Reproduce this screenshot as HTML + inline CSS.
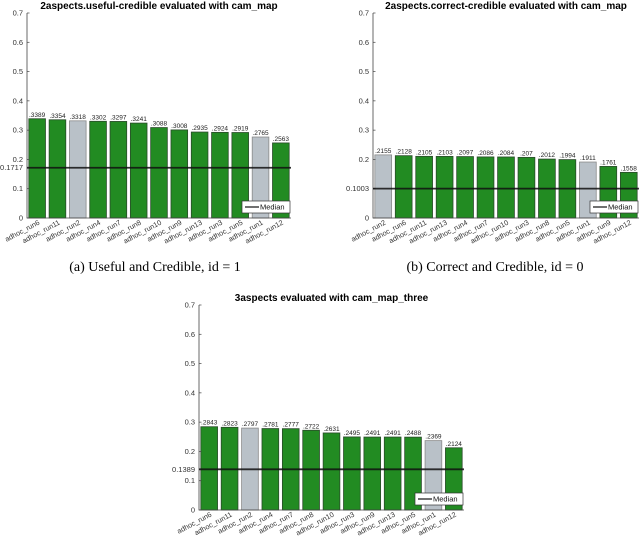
<!DOCTYPE html>
<html><head><meta charset="utf-8">
<style>
body{margin:0;background:#fff;width:640px;height:541px;overflow:hidden}
svg{display:block}
.t{font-family:"Liberation Sans",sans-serif}
.cap{font-family:"Liberation Serif",serif;font-size:14px}
</style></head><body>
<svg id="s" width="640" height="541" viewBox="0 0 640 541">
<text class="cap" x="155" y="271" text-anchor="middle">(a) Useful and Credible, id = 1</text>
<text class="cap" x="495" y="271" text-anchor="middle">(b) Correct and Credible, id = 0</text>
</svg>
<script>
const catsA=["adhoc_run6","adhoc_run11","adhoc_run2","adhoc_run4","adhoc_run7","adhoc_run8","adhoc_run10","adhoc_run9","adhoc_run13","adhoc_run3","adhoc_run5","adhoc_run1","adhoc_run12"];
const valsA=[0.3389,0.3354,0.3318,0.3302,0.3297,0.3241,0.3088,0.3008,0.2935,0.2924,0.2919,0.2765,0.2563];
const labsA=[".3389",".3354",".3318",".3302",".3297",".3241",".3088",".3008",".2935",".2924",".2919",".2765",".2563"];
const grayA=["adhoc_run2","adhoc_run1"];
const medA=0.1717;
const catsB=["adhoc_run2","adhoc_run6","adhoc_run11","adhoc_run13","adhoc_run4","adhoc_run7","adhoc_run10","adhoc_run3","adhoc_run8","adhoc_run5","adhoc_run1","adhoc_run9","adhoc_run12"];
const valsB=[0.2155,0.2128,0.2105,0.2103,0.2097,0.2086,0.2084,0.207,0.2012,0.1994,0.1911,0.1761,0.1558];
const labsB=[".2155",".2128",".2105",".2103",".2097",".2086",".2084",".207",".2012",".1994",".1911",".1761",".1558"];
const grayB=["adhoc_run2","adhoc_run1"];
const medB=0.1003;
const catsC=["adhoc_run6","adhoc_run11","adhoc_run2","adhoc_run4","adhoc_run7","adhoc_run8","adhoc_run10","adhoc_run3","adhoc_run9","adhoc_run13","adhoc_run5","adhoc_run1","adhoc_run12"];
const valsC=[0.2843,0.2823,0.2797,0.2781,0.2777,0.2722,0.2631,0.2495,0.2491,0.2491,0.2488,0.2369,0.2124];
const labsC=[".2843",".2823",".2797",".2781",".2777",".2722",".2631",".2495",".2491",".2491",".2488",".2369",".2124"];
const grayC=["adhoc_run2","adhoc_run1"];
const medC=0.1389;
const yTicks=[0,0.1,0.2,0.3,0.4,0.5,0.6,0.7];
const yTickLabels=["0","0.1","0.2","0.3","0.4","0.5","0.6","0.7"];

const NS="http://www.w3.org/2000/svg";
const svg=document.getElementById('s');
function mk(tag,attrs,parent){const e=document.createElementNS(NS,tag);for(const k in attrs)e.setAttribute(k,attrs[k]);(parent||svg).appendChild(e);return e;}

function chart(id,title,L,R,T,B,cats,vals,labs,grays,med){
  const g=mk('g',{});
  
  
  const y=v=>B-(v/0.7)*(B-T);
  const band=(R-L)/cats.length;
  const x=i=>L+band*i;
  const tt=mk('text',{x:(L+R)/2,y:T-4,'text-anchor':'middle','font-size':'10','font-weight':'bold',class:'t'},g);
  tt.textContent=title;
  
  
  cats.forEach((c,i)=>{
    const gr=grays.includes(c);
    const bw=band*0.82;
    const bx=x(i)+(band-bw)/2;
    const r=mk('rect',{x:bx,y:y(vals[i]),width:bw,height:B-y(vals[i]),fill:gr?'#b9c1c8':'#228b22',stroke:gr?'#8a8a8a':'#2a4a2a','stroke-width':'0.8'},g);
    
    
    const vt=mk('text',{x:bx+bw/2,y:y(vals[i])-2,'text-anchor':'middle','font-size':'6.5',fill:'#222',class:'t'},g);
    vt.textContent=labs[i];
    
    
    const cx=bx+bw/2+3, cy=B+6;
    const ct=mk('text',{x:cx,y:cy,'text-anchor':'end','font-size':'7.2',fill:'#333',class:'t',transform:`rotate(-28 ${cx} ${cy})`},g);
    ct.textContent=c;
    
    
  });
  const ax=mk('path',{d:`M${L},${T} L${L},${B} L${R},${B}`,fill:'none',stroke:'#444','stroke-width':'0.8'},g);
  
  
  yTicks.forEach((v,i)=>{
    mk('line',{x1:L,x2:L+2.5,y1:y(v),y2:y(v),stroke:'#444','stroke-width':'0.7'},g);
    if(Math.abs(v-med)<0.02) return;
    const yt=mk('text',{x:L-4,y:y(v)+2.5,'text-anchor':'end','font-size':'7.5',fill:'#333',class:'t'},g);
    yt.textContent=yTickLabels[i];
    
    
  });
  const mt=mk('text',{x:L-4,y:y(med)+2.5,'text-anchor':'end','font-size':'7.5',fill:'#333',class:'t'},g);
  mt.textContent=String(med);
  
  
  const ml=mk('line',{x1:L,x2:R,y1:y(med),y2:y(med),stroke:'#111','stroke-width':'1.8','stroke-opacity':'0.85'},g);
  
  
  const lg=mk('g',{},g);
  
  
  mk('rect',{x:R-49,y:B-17,width:48,height:12,fill:'#fff',stroke:'#333','stroke-width':'0.7'},lg);
  mk('line',{x1:R-46,x2:R-32,y1:B-11,y2:B-11,stroke:'#222','stroke-width':'1.3'},lg);
  const lt=mk('text',{x:R-31,y:B-8.3,'font-size':'7.5',fill:'#111',class:'t'},lg);
  lt.textContent='Median';
}
chart('a','2aspects.useful-credible evaluated with cam_map',27,291,13,218,catsA,valsA,labsA,grayA,medA);
chart('b','2aspects.correct-credible evaluated with cam_map',373,639,13,218,catsB,valsB,labsB,grayB,medB);
chart('c','3aspects evaluated with cam_map_three',199,464,305,510,catsC,valsC,labsC,grayC,medC);
</script>
</body></html>
